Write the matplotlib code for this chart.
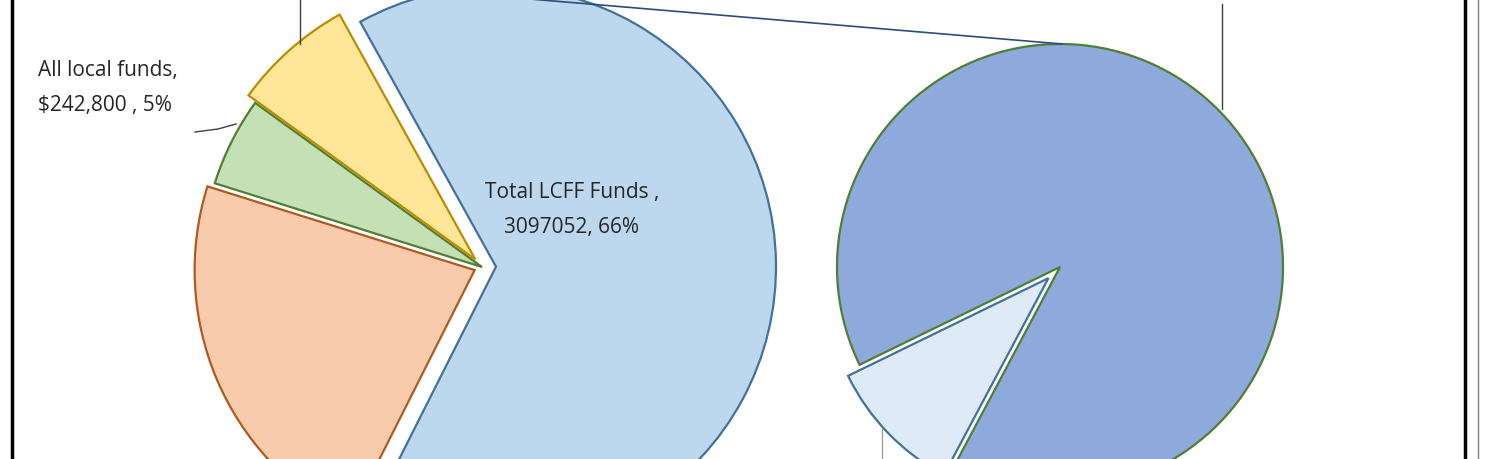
import matplotlib
matplotlib.use("Agg")
import matplotlib.pyplot as plt

# main pie data (values in $)
main_labels = ["Total LCFF Funds", "Other state/federal", "All local funds", "Other"]
main_values = [3097052, 1060000, 242800, 330000]
main_colors = ["#BDD7EE", "#F8CBAD", "#C5E0B4", "#FFE699"]
main_edges = ["#41719C", "#AE5A21", "#507E32", "#BC8C00"]

# secondary pie data (% of LCFF)
sub_values = [10, 90]
sub_colors = ["#DEEBF7", "#8EA9DB"]
sub_edges = ["#41719C", "#507E32"]

H = 460
fig = plt.figure(figsize=(15, 4.6), dpi=100)
ax = fig.add_axes([0, 0, 1, 1])
ax.set_xlim(0, 1500)
ax.set_ylim(0, H)
ax.axis("off")

w1, _ = ax.pie(main_values, colors=main_colors, startangle=119, counterclock=False,
               explode=[14, 8, 0, 10], center=(482, H - 268), radius=280,
               wedgeprops=dict(linewidth=1.6))
for w, e in zip(w1, main_edges):
    w.set_edgecolor(e)

w2, _ = ax.pie(sub_values, colors=sub_colors, startangle=206, counterclock=True,
               explode=[16, 0], center=(1060, H - 268), radius=223,
               wedgeprops=dict(linewidth=1.6))
for w, e in zip(w2, sub_edges):
    w.set_edgecolor(e)
ax.set_xlim(0, 1500)
ax.set_ylim(0, H)

# connector line
ax.plot([530, 1062], [H - 0, H - 45], color="#2F4B7C", lw=1.2)
# leader lines
ax.plot([300, 300], [H, H - 45], color="#404040", lw=1)
ax.plot([1222, 1222], [H - 5, H - 110], color="#404040", lw=1)
ax.plot([195, 218, 236], [H - 133, H - 130, H - 125], color="#404040", lw=1)
ax.plot([882, 882], [H - 430, 0], color="#A0A0A0", lw=1)

# frame
ax.plot([12, 12], [0, H], color="black", lw=2.5)
ax.plot([1465, 1465], [0, H], color="black", lw=2.5)
ax.plot([1478, 1478], [0, H], color="#808080", lw=1)

font = "Open Sans"
ax.text(38, H - 88, "All local funds,\n$242,800 , 5%", fontsize=15, family=font,
        ha="left", va="center", linespacing=1.85, color="#262626")
ax.text(572, H - 210, "Total LCFF Funds ,\n3097052, 66%", fontsize=15, family=font,
        ha="center", va="center", linespacing=1.85, color="#262626")

fig.savefig("out.png", dpi=100)
